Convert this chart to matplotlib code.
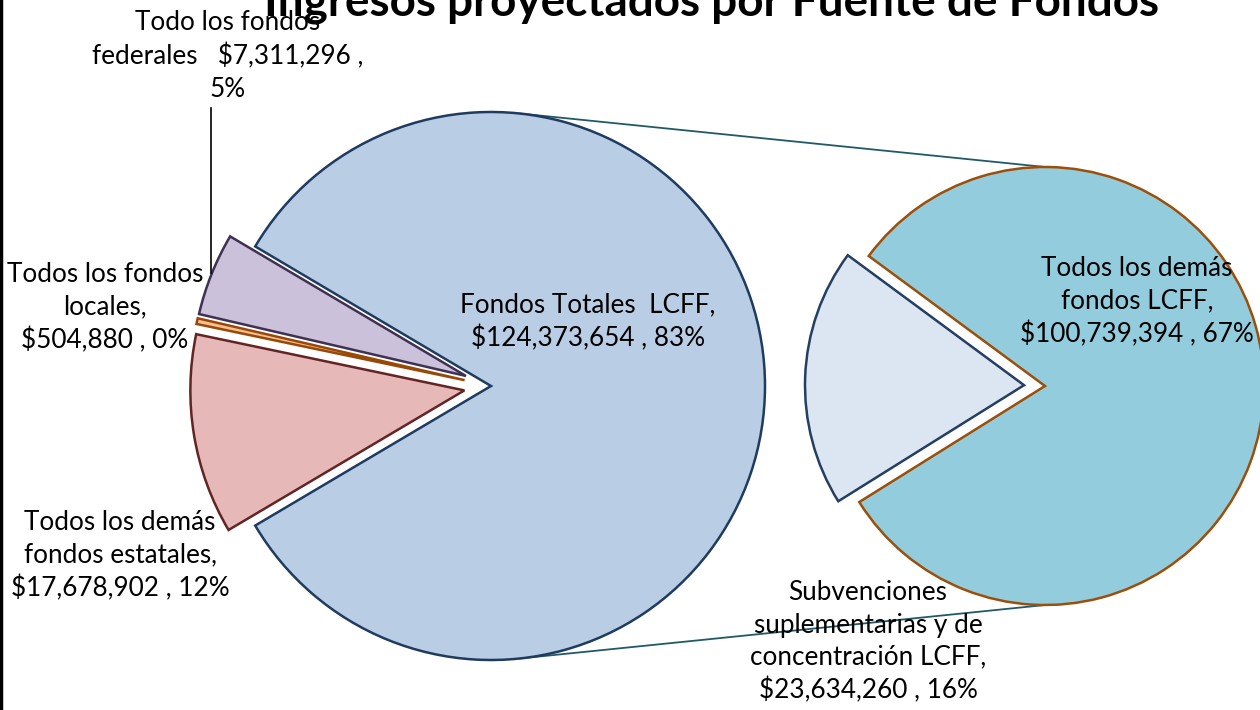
import numpy as np
import matplotlib.pyplot as plt
from matplotlib.lines import Line2D

plt.rcParams['font.family'] = ['Lato', 'DejaVu Sans']

# main pie: LCFF total and the other sources
main_labels = ["Fondos Totales  LCFF,\n$124,373,654 , 83%",
               "Todo los fondos\nfederales   $7,311,296 ,\n5%",
               "Todos los fondos\nlocales,\n$504,880 , 0%",
               "Todos los demás\nfondos estatales,\n$17,678,902 , 12%"]
main_values = [124373654, 7311296, 504880, 17678902]
main_colors = ['#B9CDE5', '#CCC1DA', '#FAC090', '#E6B9B8']
main_edges = ['#1F3B5F', '#3F3151', '#984807', '#632523']

# secondary pie: split of LCFF
sub_labels = ["Todos los demás\nfondos LCFF,\n$100,739,394 , 67%",
              "Subvenciones\nsuplementarias y de\nconcentración LCFF,\n$23,634,260 , 16%"]
sub_values = [100739394, 23634260]
sub_colors = ['#93CDDD', '#DCE6F2']
sub_edges = ['#9C4F0A', '#243F60']

W, H = 1260, 710
fig = plt.figure(figsize=(12.6, 7.1), dpi=100)
ax = fig.add_axes([0, 0, 1, 1])

c1, r1 = (491, 324), 274
c2, r2 = (1045, 324), 219

# matplotlib explode is an absolute offset in data units (pixels here)
frac0 = main_values[0] / sum(main_values)
start1 = -frac0 * 180
w1, _ = ax.pie(main_values, center=c1, radius=r1, startangle=start1,
               colors=main_colors, explode=[0, 27, 27, 27],
               wedgeprops=dict(linewidth=1.8), frame=True)
for w, ec in zip(w1, main_edges):
    w.set_edgecolor(ec)

w2, _ = ax.pie(sub_values, center=c2, radius=r2, startangle=-148,
               colors=sub_colors, explode=[0, 21],
               wedgeprops=dict(linewidth=1.8), frame=True)
for w, ec in zip(w2, sub_edges):
    w.set_edgecolor(ec)

ax.set_xlim(0, W)
ax.set_ylim(0, H)
ax.set_aspect('equal')
ax.axis('off')

# connector lines between the two pies
for a1, a2 in [(84, 90), (-84, -90)]:
    p1 = (c1[0] + r1 * np.cos(np.radians(a1)), c1[1] + r1 * np.sin(np.radians(a1)))
    p2 = (c2[0] + r2 * np.cos(np.radians(a2)), c2[1] + r2 * np.sin(np.radians(a2)))
    ax.plot([p1[0], p2[0]], [p1[1], p2[1]], color='#215968', lw=1.3, zorder=0)

fs = 18.8
ls = 1.36
ax.text(588, H - 322, main_labels[0], ha='center', va='center', fontsize=fs, linespacing=ls)
ax.text(228, H - 56, main_labels[1], ha='center', va='center', fontsize=fs, linespacing=ls)
ax.text(105, H - 308, main_labels[2], ha='center', va='center', fontsize=fs, linespacing=ls)
ax.text(120, H - 556, main_labels[3], ha='center', va='center', fontsize=fs, linespacing=ls)
ax.text(1137, H - 302, sub_labels[0], ha='center', va='center', fontsize=fs, linespacing=ls)
ax.text(868, H - 642, sub_labels[1], ha='center', va='center', fontsize=fs, linespacing=ls)

# leader line for federal label
ax.plot([211, 211], [H - 108, H - 273], color='black', lw=1.2)

ax.text(712, H - 16, "Ingresos proyectados por Fuente de Fondos", ha='center',
        va='baseline', fontsize=33, fontweight='bold')

fig.add_artist(Line2D([0.001, 0.001], [0, 1], color='black', lw=2.5, transform=fig.transFigure))

fig.savefig('out.png', dpi=100)
